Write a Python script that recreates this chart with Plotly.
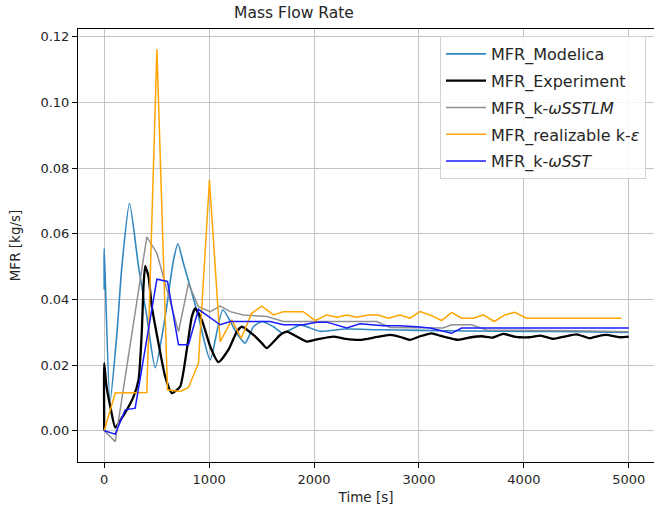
import plotly.graph_objects as go

# ---- data ----
t_modelica = [0, 0, 55, 121, 168, 241, 327, 406, 486, 581, 660, 702, 755, 819, 898, 1010,
              1130, 1264, 1343, 1422, 1502, 1613, 1700, 1870, 2060, 2300, 2600, 3000, 3500,
              4000, 4500, 5000]
y_modelica = [0.043, 0.0555, 0.009, 0.0297, 0.050, 0.0693, 0.050, 0.0348, 0.0192, 0.0348, 0.052,
              0.057, 0.051, 0.0439, 0.0348, 0.0216, 0.0368, 0.0297, 0.0267, 0.0317,
              0.0333, 0.0317, 0.0298, 0.0322, 0.0303, 0.0310, 0.0308, 0.0306, 0.0304, 0.0303,
              0.0302, 0.0300]

t_exp = [0, 0, 20, 60, 105, 160, 216, 279, 327, 359, 374, 390, 422, 454, 517, 581, 645, 724, 787,
         835, 867, 930, 1010, 1089, 1184, 1264, 1311, 1422, 1502, 1549, 1676, 1740, 1930, 2050,
         2184, 2300, 2438, 2600, 2724, 2830, 2914, 3010, 3121, 3200, 3295, 3375, 3500, 3600, 3700,
         3803, 3920, 4050, 4160, 4279, 4400, 4502, 4628, 4700, 4787, 4914, 5000]
y_exp = [0.0, 0.0206, 0.014, 0.007, 0.001, 0.0035, 0.0064, 0.0104, 0.0155, 0.0307, 0.0439, 0.0502,
         0.047, 0.0378, 0.0267, 0.0165, 0.0115, 0.0135, 0.0247, 0.0348, 0.0373, 0.0338, 0.0257,
         0.0209, 0.0247, 0.0302, 0.0317, 0.0292, 0.0267, 0.0252, 0.0292, 0.0302, 0.0272, 0.0280,
         0.0287, 0.0280, 0.0277, 0.0286, 0.0292, 0.0285, 0.0277, 0.0288, 0.0297, 0.0290, 0.0282,
         0.0277, 0.0285, 0.0288, 0.0284, 0.0295, 0.0286, 0.0285, 0.0290, 0.0280, 0.0288, 0.0294,
         0.0282, 0.0288, 0.0292, 0.0285, 0.0287]

t_sstlm = [0, 105, 406, 502, 708, 803, 898, 1010, 1105, 1200, 1327, 1549, 1708, 2248, 2597, 2724,
           3000, 3229, 3311, 3500, 3645, 4000, 4500, 5000]
y_sstlm = [0.0, -0.0033, 0.0591, 0.0541, 0.0302, 0.0449, 0.0378, 0.0363, 0.038, 0.0363, 0.0353,
           0.0348, 0.0333, 0.0333, 0.0333, 0.0315, 0.0314, 0.0313, 0.0323, 0.0323, 0.0307, 0.0307,
           0.0305, 0.0302]

t_rke = [0, 105, 406, 502, 603, 724, 803, 898, 1003, 1105, 1216, 1305, 1406, 1502, 1613, 1708,
         1898, 2010, 2121, 2216, 2311, 2406, 2517, 2612, 2708, 2819, 2914, 3010, 3105, 3216, 3311,
         3406, 3517, 3613, 3717, 3819, 3914, 4025, 4930]
y_rke = [0.0, 0.0115, 0.0117, 0.1162, 0.0125, 0.012, 0.0132, 0.0206, 0.0764, 0.0272, 0.0338,
         0.0282, 0.0358, 0.038, 0.0353, 0.0363, 0.0363, 0.0336, 0.0353, 0.0346, 0.0353, 0.0346,
         0.0353, 0.0353, 0.0343, 0.0353, 0.0343, 0.0363, 0.0353, 0.0336, 0.0361, 0.0343, 0.0343,
         0.0353, 0.0333, 0.0353, 0.0361, 0.0343, 0.0343]

t_sst = [0, 105, 200, 295, 502, 603, 708, 803, 898, 1105, 1200, 1581, 1708, 1898, 2025, 2121,
         2311, 2438, 2660, 2819, 2978, 3105, 3311, 3406, 5000]
y_sst = [0.0, -0.001, 0.0064, 0.0069, 0.0462, 0.0455, 0.0262, 0.0262, 0.037, 0.0323, 0.0333,
         0.0333, 0.0323, 0.0323, 0.0331, 0.0331, 0.0313, 0.0326, 0.032, 0.032, 0.0317, 0.0313,
         0.0297, 0.0313, 0.0313]

x_ticks = [0, 1000, 2000, 3000, 4000, 5000]
y_ticks = [0.00, 0.02, 0.04, 0.06, 0.08, 0.10, 0.12]
y_tick_labels = ["0.00", "0.02", "0.04", "0.06", "0.08", "0.10", "0.12"]

names = ["MFR_Modelica", "MFR_Experiment", "MFR_k-<i>ωSSTLM</i>",
         "MFR_realizable k-<i>ε</i>", "MFR_k-<i>ωSST</i>"]

# ---- figure ----
FONT = "DejaVu Sans"
W, H = 654, 518
fig = go.Figure()
fig.add_trace(go.Scatter(x=t_modelica, y=y_modelica, mode="lines", name=names[0], legendgroup="g1",
                         line=dict(color="#2f86c0", width=1.6, shape="spline", smoothing=0.6)))
fig.add_trace(go.Scatter(x=t_exp, y=y_exp, mode="lines", name=names[1], legendgroup="g2",
                         line=dict(color="black", width=2.3, shape="spline", smoothing=0.5)))
fig.add_trace(go.Scatter(x=t_sstlm, y=y_sstlm, mode="lines", name=names[2], legendgroup="g3",
                         line=dict(color="#909090", width=1.5)))
fig.add_trace(go.Scatter(x=t_rke, y=y_rke, mode="lines", name=names[3], legendgroup="g4",
                         line=dict(color="#ffa500", width=1.5)))
fig.add_trace(go.Scatter(x=t_sst, y=y_sst, mode="lines", name=names[4], legendgroup="g5",
                         line=dict(color="#1a1aff", width=1.5)))

axis_common = dict(showgrid=True, gridcolor="#c4c4c4", gridwidth=1, zeroline=False,
                   showline=True, linecolor="black", linewidth=1, mirror=True,
                   ticks="outside", ticklen=5, tickcolor="black",
                   tickfont=dict(family=FONT, size=13, color="#262626"))

fig.update_layout(
    width=W, height=H,
    margin=dict(l=78, r=0, t=29, b=56),
    paper_bgcolor="white", plot_bgcolor="white",
    font=dict(family=FONT, color="#262626"),
    title=dict(text="Mass Flow Rate", x=294 / W, xref="container", xanchor="center",
               y=1 - 13 / H, yref="container", yanchor="middle",
               font=dict(family=FONT, size=15.5, color="#262626")),
    xaxis=dict(range=[-250, 5240], tickvals=x_ticks, ticktext=[str(v) for v in x_ticks],
               title=dict(text="Time [s]", font=dict(family=FONT, size=13.5), standoff=6),
               automargin=False, **axis_common),
    yaxis=dict(range=[-0.0095, 0.1224], tickvals=y_ticks, ticktext=y_tick_labels,
               title=dict(text="MFR [kg/s]", font=dict(family=FONT, size=13.5), standoff=16),
               automargin=False, **axis_common),
    legend=dict(x=(440 - 78) / 576, y=1 - (36 - 29) / 433, xanchor="left", yanchor="top",
                bgcolor="rgba(255,255,255,0.85)", bordercolor="#d0d0d0", borderwidth=1,
                font=dict(family=FONT, size=16, color="#262626"), itemwidth=40,
                tracegroupgap=3),
    showlegend=True,
)

fig.write_html("out.html", config={"displayModeBar": False},
               post_script="document.body.style.margin='0';document.body.style.overflow='hidden';")
